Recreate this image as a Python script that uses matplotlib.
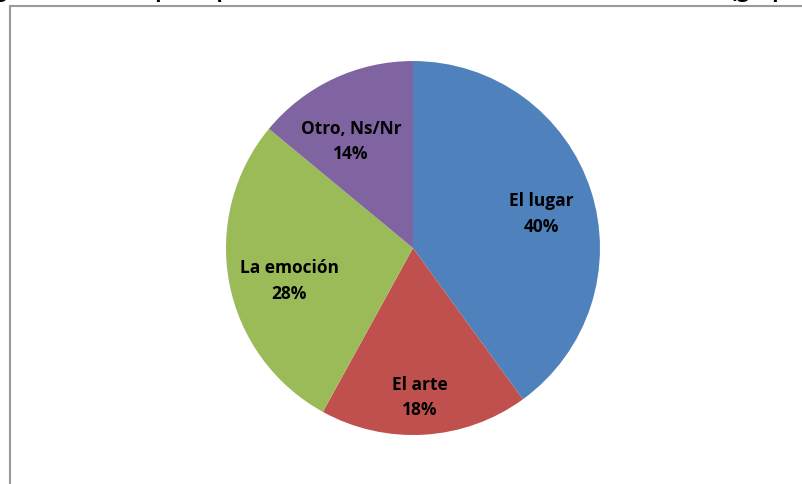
import matplotlib
matplotlib.use("Agg")
import matplotlib.pyplot as plt
import numpy as np
from matplotlib.patches import Rectangle

# data
labels = ["El lugar", "El arte", "La emoción", "Otro, Ns/Nr"]
values = [40, 18, 28, 14]
colors = ["#4F81BD", "#C0504D", "#9BBB59", "#8064A2"]
label_radius = [0.71, 0.80, 0.685, 0.66]
label_angle_shift = [-3, -1, 4, 5]

plt.rcParams["font.family"] = ["Open Sans", "DejaVu Sans"]

fig = plt.figure(figsize=(8.03, 4.84), dpi=100)
fig.patch.set_facecolor("white")

# outer chart frame (partially cropped in the screenshot)
fig.patches.append(Rectangle((10 / 803, -0.1), 1.2, 1.1 - 6 / 484,
                             transform=fig.transFigure, fill=False,
                             edgecolor="#9a9a9a", linewidth=1.5))

# cropped title, only the descenders are visible
fig.text(-0.006, 1 + 3 / 484,
         "g 3. Valor del espacio por los asistentes a la muestra de arte del centro (grupo",
         fontsize=15, fontweight="bold", ha="left", va="baseline")

ax = fig.add_axes([0.2814, 0.1012, 0.4658, 0.7727])
wedges, _ = ax.pie(values, colors=colors, startangle=90, counterclock=False,
                   radius=1.0, wedgeprops=dict(linewidth=0))
ax.set_xlim(-1, 1)
ax.set_ylim(-1, 1)
ax.set_aspect("equal")
ax.axis("off")

total = sum(values)
for w, lab, v, r, da in zip(wedges, labels, values, label_radius, label_angle_shift):
    ang = np.deg2rad((w.theta1 + w.theta2) / 2 + da)
    ax.text(r * np.cos(ang), r * np.sin(ang), f"{lab}\n{v / total:.0%}",
            ha="center", va="center", fontsize=12.5, fontweight="bold",
            linespacing=1.55)

fig.savefig("out.png", dpi=100)
